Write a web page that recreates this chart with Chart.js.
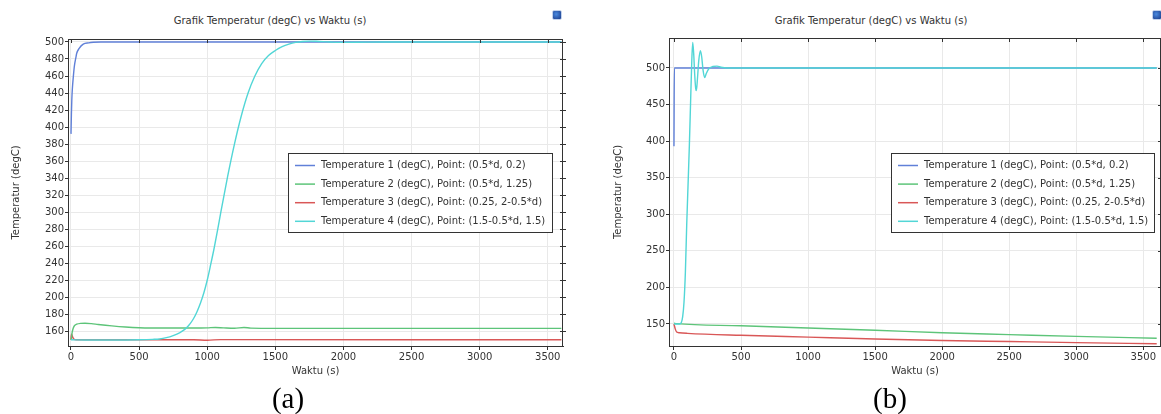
<!DOCTYPE html>
<html><head><meta charset="utf-8">
<script src="https://cdn.jsdelivr.net/npm/chart.js@4/dist/chart.umd.min.js"></script>
<style>
html,body{margin:0;padding:0;background:#fff;width:1161px;height:414px;overflow:hidden;position:relative;}
canvas{position:absolute;top:0;}
.title{position:absolute;font:10px "DejaVu Sans";color:#333;line-height:12px;top:15px;white-space:nowrap;transform:translateX(-50%);}
.cap{position:absolute;font:29px "Liberation Serif";line-height:29px;top:384px;transform:translateX(-50%);color:#000;white-space:nowrap;}
.icon{position:absolute;width:8px;height:8px;top:10px;border-radius:2px;border:1px solid #c3d2ec;background:radial-gradient(circle at 40% 40%,#4a8ae0,#1a3a88);}
</style>
</head><body>
<div class="title" style="left:270px">Grafik Temperatur (degC) vs Waktu (s)</div>
<div class="title" style="left:871px">Grafik Temperatur (degC) vs Waktu (s)</div>
<div class="icon" style="left:552px"></div>
<div class="icon" style="left:1152px"></div>
<canvas id="ca" width="580" height="414" style="left:0"></canvas>
<canvas id="cb" width="581" height="414" style="left:580px"></canvas>
<div class="cap" style="left:288px">(a)</div>
<div class="cap" style="left:890px">(b)</div>
<script>
// ---- shared labels / ticks ----
const seriesLabels = [
  'Temperature 1 (degC), Point: (0.5*d, 0.2)',
  'Temperature 2 (degC), Point: (0.5*d, 1.25)',
  'Temperature 3 (degC), Point: (0.25, 2-0.5*d)',
  'Temperature 4 (degC), Point: (1.5-0.5*d, 1.5)'
];
const seriesColors = ['#6080d8', '#5dc479', '#d95757', '#52d6d6'];
const xTicks = [0, 500, 1000, 1500, 2000, 2500, 3000, 3500];
const yTicksA = [160, 180, 200, 220, 240, 260, 280, 300, 320, 340, 360, 380, 400, 420, 440, 460, 480, 500];
const yTicksB = [150, 200, 250, 300, 350, 400, 450, 500];
const xTitle = 'Waktu (s)';
const yTitle = 'Temperatur (degC)';

// ---- chart (a) ----
const a1T = [0, 3, 6, 10, 17, 25, 35, 42, 60, 90, 130, 164, 220, 3600];
const a1V = [392, 415, 432, 445, 459, 472, 481, 486.7, 492.5, 497.5, 499, 499.6, 500, 500];
const a2T = [0, 3, 8, 15, 25, 42, 70, 103, 150, 200, 300, 400, 500, 700, 900, 1000, 1060, 1120, 1200, 1270, 1320, 1500, 2000, 3000, 3600];
const a2V = [150, 152, 158, 163, 166.5, 168.3, 169.3, 169.5, 169, 168, 166.3, 165, 164.2, 163.8, 163.8, 164, 164.5, 164, 163.5, 164.5, 163.7, 163.4, 163.4, 163.4, 163.4];
const a3T = [0, 2, 5, 10, 20, 40, 900, 1000, 1100, 3600];
const a3V = [150, 155, 156.5, 154, 151, 150, 150, 149.5, 150.2, 150];
const a4T = [0, 100, 300, 500, 600, 650, 700, 750, 800, 825, 850, 875, 900, 925, 950, 975, 1000, 1025, 1050, 1075, 1100, 1150, 1200, 1250, 1300, 1350, 1400, 1450, 1500, 1550, 1600, 1650, 1700, 1750, 1800, 1900, 2000, 2100, 2300, 3600];
const a4V = [150, 149.7, 149.7, 150, 150.5, 151, 152.5, 155, 158.5, 161, 164.5, 169, 175, 183, 193, 205, 220, 238, 257, 278, 300, 342, 380, 413, 440, 460, 474.5, 484, 490, 494.5, 497.5, 499.5, 500.6, 501, 500.8, 500, 499.5, 499.6, 500, 500];

// ---- chart (b) ----
const b1T = [0, 3, 3600];
const b1V = [393, 500, 500];
const b2T = [0, 20, 500, 1000, 1500, 2000, 2500, 3000, 3600];
const b2V = [151, 150.5, 147.5, 144.5, 141.5, 138, 135.5, 133, 130.5];
const b3T = [0, 10, 20, 40, 100, 500, 1000, 1500, 2000, 2500, 3000, 3600];
const b3V = [150, 143, 139, 138, 137.2, 134.5, 132, 129.5, 127.5, 126, 124.5, 123];
const b4T = [0, 40, 55, 65, 75, 85, 95, 105, 115, 125, 133, 140, 147, 155, 162, 167, 175, 185, 197, 207, 217, 229, 240, 260, 290, 321, 350, 400, 3600];
const b4V = [150, 150, 152, 160, 180, 220, 285, 340, 395, 460, 510, 535, 520, 490, 472, 469, 485, 510, 523.5, 515, 497, 487, 492, 499, 502, 502.5, 501, 500, 500];

const F = '"DejaVu Sans", sans-serif';

const framePlugin = {
  id: 'frame',
  afterDatasetsDraw(chart, args, opts) {
    const ctx = chart.ctx;
    const {left, right, top, bottom} = chart.chartArea;
    const x = chart.scales.x, y = chart.scales.y;
    ctx.save();
    ctx.strokeStyle = '#333';
    ctx.lineWidth = 1;
    ctx.beginPath();
    ctx.moveTo(left, Math.round(top) + 0.5);
    ctx.lineTo(right, Math.round(top) + 0.5);
    ctx.moveTo(Math.round(right) - 0.5, top);
    ctx.lineTo(Math.round(right) - 0.5, bottom);
    ctx.stroke();
    x.ticks.forEach(t => {
      const px = Math.round(x.getPixelForValue(t.value)) + 0.5;
      ctx.beginPath(); ctx.moveTo(px, top); ctx.lineTo(px, top + 4); ctx.stroke();
    });
    y.ticks.forEach(t => {
      const py = Math.round(y.getPixelForValue(t.value)) + 0.5;
      ctx.beginPath(); ctx.moveTo(right - 3, py); ctx.lineTo(right + 3, py); ctx.stroke();
    });
    // legend box
    const b = opts.box;
    ctx.fillStyle = '#fff';
    ctx.fillRect(b.x, b.y, b.w, b.h);
    ctx.strokeStyle = '#333';
    ctx.strokeRect(b.x + 0.5, b.y + 0.5, b.w, b.h);
    ctx.font = '10px ' + F;
    ctx.textBaseline = 'middle';
    chart.data.datasets.forEach((ds, i) => {
      const yy = b.y + b.row0 + i * b.dy;
      ctx.strokeStyle = ds.borderColor;
      ctx.lineWidth = 1.5;
      ctx.beginPath(); ctx.moveTo(b.x + 7, yy); ctx.lineTo(b.x + 27, yy); ctx.stroke();
      ctx.fillStyle = '#333';
      ctx.fillText(ds.label, b.x + 33, yy);
    });
    ctx.restore();
  }
};

function makeChart(id, ser, cfg) {
  const datasets = ser.map((s, i) => ({
    label: seriesLabels[i],
    data: s[0].map((t, k) => ({x: t, y: s[1][k]})),
    borderColor: seriesColors[i],
    backgroundColor: seriesColors[i],
    borderWidth: 1.4,
    pointRadius: 0,
    fill: false,
    cubicInterpolationMode: 'monotone',
    order: i === 3 ? 0 : i + 1
  }));
  return new Chart(document.getElementById(id), {
    type: 'line',
    data: {datasets},
    options: {
      responsive: false,
      animation: false,
      events: [],
      layout: {padding: {left: 0, top: cfg.top, right: cfg.right, bottom: 0}},
      plugins: {legend: {display: false}, tooltip: {enabled: false}, frame: {box: cfg.box}},
      scales: {
        x: {
          type: 'linear', min: cfg.xmin, max: cfg.xmax,
          afterBuildTicks: s => { s.ticks = xTicks.map(v => ({value: v})); },
          afterFit: s => { s.height = 414 - cfg.bottom; },
          grid: {color: '#e9e9e9', tickColor: '#333', tickLength: 4},
          border: {color: '#333', width: 1},
          ticks: {font: {family: F, size: 10}, color: '#333', padding: 1, maxRotation: 0, autoSkip: false, callback: v => String(v)},
          title: {display: true, text: xTitle, font: {family: F, size: 10}, color: '#333', padding: {top: 0, bottom: 37}}
        },
        y: {
          type: 'linear', min: cfg.ymin, max: cfg.ymax,
          afterBuildTicks: s => { s.ticks = cfg.yTicks.map(v => ({value: v})); },
          afterFit: s => { s.width = cfg.left; },
          grid: {color: '#e9e9e9', tickColor: '#333', tickLength: 3},
          border: {color: '#333', width: 1},
          ticks: {font: {family: F, size: 10}, color: '#333', padding: 1, autoSkip: false, callback: v => String(v)},
          title: {display: true, text: yTitle, font: {family: F, size: 10}, color: '#333', padding: {top: cfg.ytp, bottom: 0}}
        }
      }
    },
    plugins: [framePlugin]
  });
}

makeChart('ca', [[a1T, a1V], [a2T, a2V], [a3T, a3V], [a4T, a4V]], {
  top: 39, right: 17, bottom: 346, left: 68,
  xmin: -22, xmax: 3612, ymin: 142.7, ymax: 503.5, yTicks: yTicksA, ytp: 10,
  box: {x: 288, y: 153, w: 264, h: 79, row0: 12.5, dy: 18.6}
});
makeChart('cb', [[b1T, b1V], [b2T, b2V], [b3T, b3V], [b4T, b4V]], {
  top: 38, right: 0, bottom: 346, left: 89,
  xmin: -37, xmax: 3632, ymin: 119.9, ymax: 541, yTicks: yTicksB, ytp: 32,
  box: {x: 311, y: 153, w: 263, h: 79, row0: 12.5, dy: 18.6}
});
</script>
</body></html>
